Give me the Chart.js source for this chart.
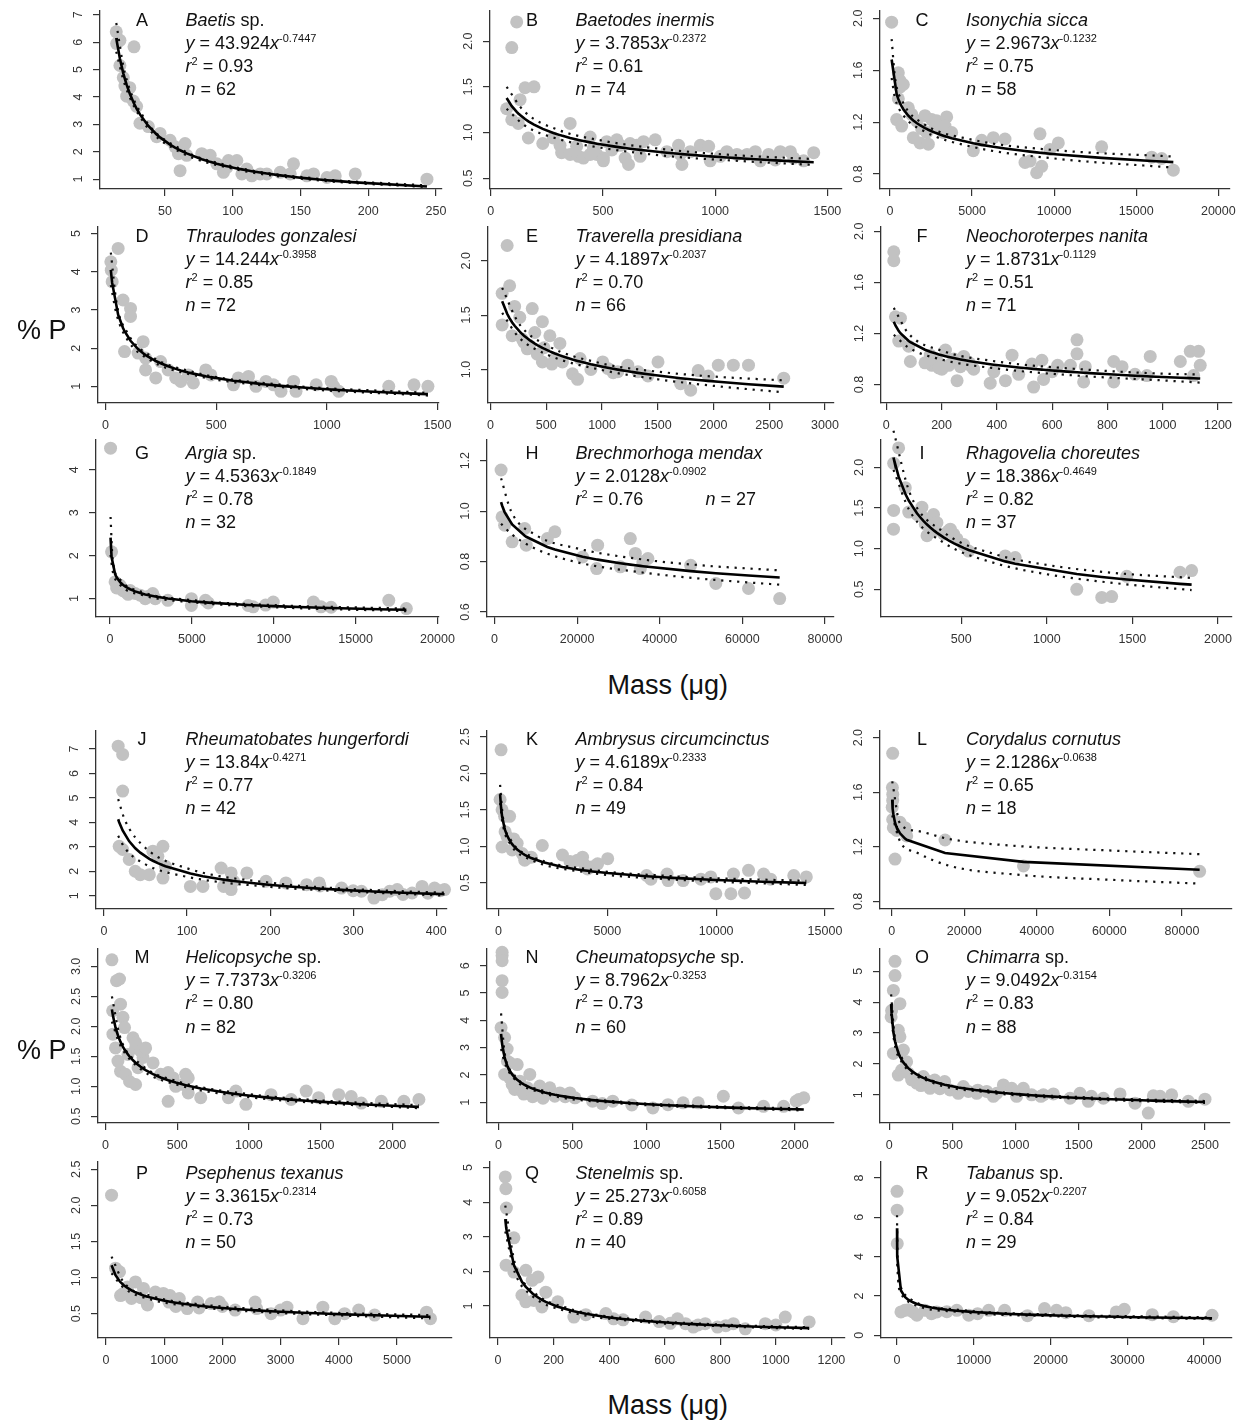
<!DOCTYPE html>
<html><head><meta charset="utf-8">
<script src="https://cdn.jsdelivr.net/npm/chart.js@4.4.0/dist/chart.umd.min.js"></script>
<style>
body{margin:0;background:#fff;}
#page{position:relative;width:1244px;height:1422px;overflow:hidden;font-family:"Liberation Sans",Arial,Helvetica,sans-serif;color:#111;}
#page canvas{position:absolute;}
.t{position:absolute;font-size:18px;line-height:23px;white-space:nowrap;}
.t sup{font-size:11px;position:relative;top:-7px;vertical-align:baseline;line-height:0;}
.lt{position:absolute;font-size:18px;line-height:23px;width:40px;text-align:center;}
.big{position:absolute;font-size:27px;line-height:32px;white-space:nowrap;}
</style></head>
<body><div id="page"></div>
<script>
// ---------------- DATA ----------------
const letters = ['A','B','C','D','E','F','G','H','I','J','K','L','M','N','O','P','Q','R'];
const taxa = ['Baetis','Baetodes inermis','Isonychia sicca','Thraulodes gonzalesi','Traverella presidiana','Neochoroterpes nanita','Argia','Brechmorhoga mendax','Rhagovelia choreutes','Rheumatobates hungerfordi','Ambrysus circumcinctus','Corydalus cornutus','Helicopsyche','Cheumatopsyche','Chimarra','Psephenus texanus','Stenelmis','Tabanus'];
const taxaSuffix = [' sp.','','','','','',' sp.','','','','','',' sp.',' sp.',' sp.','',' sp.',' sp.'];
const fitCoef = [43.924, 3.7853, 2.9673, 14.244, 4.1897, 1.8731, 4.5363, 2.0128, 18.386, 13.84, 4.6189, 2.1286, 7.7373, 8.7962, 9.0492, 3.3615, 25.273, 9.052];
const fitExp = [-0.7447, -0.2372, -0.1232, -0.3958, -0.2037, -0.1129, -0.1849, -0.0902, -0.4649, -0.4271, -0.2333, -0.0638, -0.3206, -0.3253, -0.3154, -0.2314, -0.6058, -0.2207];
const rSquared = ['0.93','0.61','0.75','0.85','0.70','0.51','0.78','0.76','0.82','0.77','0.84','0.65','0.80','0.73','0.83','0.73','0.89','0.84'];
const sampleN = [62,74,58,72,66,71,32,27,37,42,49,18,82,60,88,50,40,29];

const xTickSets = [
  ['50','100','150','200','250'], ['0','500','1000','1500'], ['0','5000','10000','15000','20000'],
  ['0','500','1000','1500'], ['0','500','1000','1500','2000','2500','3000'], ['0','200','400','600','800','1000','1200'],
  ['0','5000','10000','15000','20000'], ['0','20000','40000','60000','80000'], ['500','1000','1500','2000'],
  ['0','100','200','300','400'], ['0','5000','10000','15000'], ['0','20000','40000','60000','80000'],
  ['0','500','1000','1500','2000'], ['0','500','1000','1500','2000'], ['0','500','1000','1500','2000','2500'],
  ['0','1000','2000','3000','4000','5000'], ['0','200','400','600','800','1000','1200'], ['0','10000','20000','30000','40000']
];
const yTickSets = [
  ['1','2','3','4','5','6','7'], ['0.5','1.0','1.5','2.0'], ['0.8','1.2','1.6','2.0'],
  ['1','2','3','4','5'], ['1.0','1.5','2.0'], ['0.8','1.2','1.6','2.0'],
  ['1','2','3','4'], ['0.6','0.8','1.0','1.2'], ['0.5','1.0','1.5','2.0'],
  ['1','2','3','4','5','6','7'], ['0.5','1.0','1.5','2.0','2.5'], ['0.8','1.2','1.6','2.0'],
  ['0.5','1.0','1.5','2.0','2.5','3.0'], ['1','2','3','4','5','6'], ['1','2','3','4','5'],
  ['0.5','1.0','1.5','2.0','2.5'], ['1','2','3','4','5'], ['0','2','4','6','8']
];
const xLimits = [[2,254.4],[-3,1565],[-609,20711],[-34,1507],[-23,3081],[-19.3,1251],[-859,20092],[-1826,82187],[31,2082],
  [-9.7,413],[-531,15414],[-3218,93793],[-52,2325],[-78,2265],[-74,2698],[-137,5945],[-29,1249],[-2078,43636]];
const yLimits = [[0.64,7.14],[0.382,2.33],[0.685,2.056],[0.565,5.17],[0.692,2.31],[0.655,2.034],[0.573,4.69],[0.58,1.282],[0.159,2.337],
  [0.454,7.74],[0.141,2.578],[0.744,2.049],[0.388,3.29],[0.24,6.61],[0.088,5.72],[0.163,2.60],[0.075,5.16],[-0.136,8.81]];

// observed points: mass (µg) and %P
const massA = [14,14.3,16.7,27.1,16.7,19.2,20.4,21.7,24,26.6,29,31.5,37.7,43.8,46.3,53.7,57.4,59.9,61.1,64.8,66,77.1,83.3,88.2,93.1,95.6,96.8,103,106.7,110.3,114,120.2,125.1,135,144.8,142.4,154.7,159.6,169.5,175.6,190.4,243.3];
const pctA = [6.38,5.95,6.07,5.83,5.15,4.71,4.40,4.03,4.34,3.85,3.66,3.04,2.92,2.55,2.67,2.42,2.18,1.93,1.31,2.30,1.87,1.93,1.87,1.56,1.25,1.43,1.68,1.68,1.19,1.37,1.12,1.19,1.19,1.25,1.56,1.19,1.12,1.19,1.06,1.12,1.19,1.0];
const massB = [116,94,131,153,193,71,94,123,168,232,279,309,354,316,354,383,391,413,443,443,458,473,502,517,540,502,562,577,599,614,621,651,666,681,733,785,837,852,845,889,934,971,978,1023,1052,1097,1142,1179,1201,1238,1268,1290,1335,1350,1394,1439];
const pctB = [2.21,1.93,1.36,1.49,1.5,1.26,1.14,1.10,0.94,0.88,0.94,0.86,1.10,0.78,0.76,0.85,0.74,0.72,0.95,0.76,0.83,0.76,0.72,0.90,0.81,0.69,0.92,0.86,0.72,0.65,0.88,0.86,0.74,0.90,0.92,0.79,0.86,0.65,0.76,0.79,0.86,0.85,0.69,0.74,0.79,0.76,0.76,0.79,0.69,0.76,0.70,0.79,0.79,0.72,0.69,0.78];
const massC = [100,508,609,508,609,812,406,711,1117,1320,1421,1624,1827,1929,2132,2234,2335,2538,2741,2843,3046,3249,3452,3350,3756,5076,5584,6294,7005,8223,8528,8934,9137,9239,9746,10254,12893,15939,16548,17259];
const pctC = [1.97,1.58,1.47,1.38,1.52,1.49,1.22,1.17,1.31,1.26,1.08,1.21,1.04,1.15,1.25,1.12,1.03,1.22,1.16,1.21,1.17,1.12,1.24,1.17,1.12,0.98,1.06,1.08,1.07,0.89,0.90,0.81,1.11,0.86,0.99,1.04,1.01,0.93,0.92,0.83];
const massD = [24,26,30,57,79,113,113,86,147,170,181,181,227,249,283,317,340,374,397,453,476,578,600,646,680,725,759,793,850,861,952,1020,1031,1054,1280,1394,1457];
const pctD = [4.26,4.04,3.74,4.61,3.26,3.04,2.83,1.91,1.87,2.17,1.74,1.43,1.22,1.65,1.43,1.22,1.13,1.30,1.09,1.43,1.30,1.04,1.22,1.26,1.0,1.13,1.04,0.87,1.13,0.87,1.04,1.13,1.0,0.87,1.0,1.04,1.0];
const massE = [149,171,104,104,194,216,262,284,329,374,397,419,465,465,532,577,622,645,735,780,803,1006,1051,1141,1231,1322,1412,1502,1705,1795,1863,1953,2043,2178,2314,2630,300,350,480,550,900,1100];
const pctE = [2.14,1.77,1.70,1.41,1.31,1.58,1.48,1.28,1.19,1.56,1.34,1.14,1.44,1.07,1.31,1.10,1.24,1.07,0.96,0.91,1.10,1.07,1.01,0.98,1.04,0.98,0.94,1.07,0.87,0.81,0.99,0.94,1.04,1.04,1.04,0.92,1.25,1.22,1.20,1.05,1.0,0.97];
const massF = [27,27,33,51,45,81,87,159,165,183,201,214,226,244,256,268,280,304,316,376,389,431,455,479,527,533,563,569,666,690,690,714,720,823,823,853,943,955,1064,1100,1130,1136,1112,140,190,300,600,620,900];
const pctF = [1.84,1.77,1.33,1.32,1.14,1.10,0.98,1.03,0.95,0.99,0.92,1.07,0.95,1.0,0.83,0.94,1.02,0.95,0.92,0.81,0.90,0.83,1.03,0.88,0.96,0.78,0.99,0.84,0.95,1.15,1.04,0.82,0.94,0.98,0.82,0.94,0.87,1.02,0.98,1.06,1.06,0.95,0.87,0.97,0.93,0.97,0.90,0.95,0.88];
const massG = [30,92,307,613,767,920,1227,1534,1840,2147,2607,2761,3528,4969,4969,5828,8436,8742,9969,12423,12883,17025,18098,400,1100,2300,6000,9500,13500];
const pctG = [4.5,2.09,1.39,1.31,1.19,1.16,1.19,1.12,1.08,1.0,1.12,1.0,0.96,1.0,0.84,0.96,0.84,0.81,0.92,0.92,0.81,0.96,0.77,1.25,1.1,1.05,0.9,0.85,0.8];
const massH = [1583,1826,2435,4262,7305,7671,12785,14611,21308,24961,24717,30440,32875,34093,35919,37137,47486,53574,61488,69037,35310];
const pctH = [1.163,0.977,0.944,0.878,0.931,0.865,0.891,0.918,0.818,0.865,0.772,0.779,0.891,0.832,0.799,0.812,0.785,0.713,0.693,0.653,0.772];
const massI = [134,105,105,104,173,193,270,300,319,338,358,426,436,475,514,543,757,815,1175,1321,1379,1467,1778,1846,280,341,241,290,455,397];
const pctI = [2.24,2.05,1.47,1.24,1.75,1.45,1.51,1.16,1.34,1.42,1.32,1.22,1.24,1.12,1.05,0.97,0.91,0.89,0.50,0.40,0.41,0.66,0.71,0.73,1.38,1.22,1.42,1.30,1.18,1.18];
const massJ = [17,22.4,22.4,18.2,22.4,30.3,37.6,43.6,54.5,58.8,64.8,70.9,70.9,73.9,104,119,141,144,153,153,156,172,195,219,244,259,286,310,325,335,344,353,371,383,398,410,260,300,360,390,405];
const pctJ = [7.12,6.78,5.28,3.02,2.89,2.48,2.0,1.86,1.86,2.82,2.61,1.72,3.02,2.2,1.38,1.38,2.13,1.38,1.25,1.93,1.59,1.93,1.59,1.52,1.45,1.52,1.31,1.18,0.90,1.04,1.18,1.25,1.11,1.38,1.31,1.25,1.4,1.2,1.05,1.1,1.2];
const massK = [116,70,162,277,393,162,508,624,855,1086,1202,2011,2935,3282,3628,3859,3975,4091,4322,4553,5015,7742,7789,8482,9753,9984,10677,10793,11301,11486,12179,13566,14143,300,700,1500,6800,7000,9300,12500];
const pctK = [2.32,1.64,1.50,1.41,1.13,0.99,1.41,0.95,1.04,0.90,0.81,1.01,0.88,0.79,0.81,0.85,0.74,0.69,0.72,0.76,0.83,0.62,0.53,0.53,0.58,0.35,0.35,0.62,0.36,0.67,0.62,0.60,0.58,1.2,1.1,0.85,0.6,0.55,0.55,0.55];
const massL = [276,200,300,150,276,460,1195,1379,920,3678,4138,14713,36322,84874,2299,276];
const pctL = [1.885,1.634,1.585,1.49,1.40,1.34,1.37,1.32,1.11,1.34,1.28,1.25,1.06,1.02,1.38,1.54];
const massM = [45,77,98,50,52,70,87,105,122,105,133,140,168,157,210,192,210,262,227,273,332,385,437,437,472,490,542,559,577,577,664,857,909,979,1154,1294,1399,1486,1626,1713,1783,1923,2080,2185,210,245,280];
const pctM = [3.11,2.76,2.79,2.26,1.87,1.64,1.42,2.37,2.15,1.25,1.98,1.20,1.08,1.53,1.03,1.81,1.64,1.48,1.31,1.62,1.39,1.20,1.23,0.75,1.14,1.0,1.03,1.20,1.14,0.89,0.81,0.81,0.92,0.70,0.86,0.78,0.92,0.81,0.86,0.83,0.72,0.75,0.75,0.78,1.73,1.59,1.64];
const massN = [24,24,24,24,24,17,41,58,41,75,75,92,109,126,143,160,194,211,244,278,312,346,380,414,482,516,635,771,1042,1144,1246,1348,1518,1620,1789,1925,2010,2027,2061,60,120,170,230,300,450,700,900];
const pctN = [6.49,6.37,6.18,5.45,5.02,3.73,3.37,2.95,2.02,2.45,1.89,1.65,1.47,2.38,1.77,1.40,1.53,2.02,1.34,1.59,1.28,1.53,1.22,1.34,1.34,1.16,1.04,1.04,0.79,0.91,0.98,0.98,1.22,0.79,0.85,0.85,1.04,1.10,1.16,2.5,1.6,1.3,1.2,1.15,1.2,0.95,0.9];
const massO = [45,45,32,18,14,84,71,84,32,111,137,71,98,150,177,216,269,322,359,412,438,480,546,586,626,692,771,824,903,969,1008,1061,1127,1220,1299,1431,1510,1576,1695,1827,1946,2051,2091,2144,2236,2368,2500,250,300,400,700,850,1000,1200,1600];
const pctO = [5.32,4.86,4.38,3.73,3.52,3.95,3.09,2.88,2.34,2.45,2.07,1.64,1.80,1.70,1.48,1.38,1.59,1.21,1.48,1.27,1.43,1.16,1.05,1.27,1.11,1.05,1.11,0.95,1.32,1.21,0.95,1.21,1.0,1.0,1.03,0.89,1.05,0.79,0.89,1.03,0.73,0.41,0.97,0.95,1.0,0.79,0.86,1.3,1.45,1.2,1.15,1.05,1.1,0.95,0.95];
const massP = [96,164,233,301,370,507,438,644,712,849,986,1082,1260,1397,1575,1808,1945,2219,2562,2589,2836,3110,3384,3726,3932,4342,4616,5507,5575,250,600,1100,1200,1600,2000,3000,4100];
const pctP = [2.14,1.13,1.08,0.78,0.87,0.94,0.71,0.85,0.62,0.80,0.78,0.66,0.71,0.57,0.66,0.64,0.66,0.55,0.66,0.57,0.50,0.59,0.43,0.59,0.43,0.55,0.48,0.52,0.43,0.75,0.72,0.75,0.6,0.58,0.6,0.55,0.5];
const massQ = [26,28,30,57,29,57,100,123,144,86,100,129,158,172,215,273,316,388,416,531,646,675,703,746,790,847,890,962,1034,1120,450,580,620,720,820,1000];
const pctQ = [4.73,4.39,3.83,2.97,2.18,1.98,2.03,1.74,1.84,1.31,1.12,1.16,0.97,1.40,1.12,0.68,0.75,0.78,0.63,0.68,0.63,0.49,0.39,0.49,0.39,0.49,0.34,0.49,0.68,0.54,0.6,0.55,0.5,0.45,0.43,0.45];
const massR = [10,25,40,520,1039,2078,2597,3636,5195,7792,9351,11948,14026,19221,20779,28571,29610,33247,41039,1500,4500,6500,10500,17000,22000,25000,36000];
const pctR = [7.32,6.36,4.66,1.19,1.27,1.19,1.02,1.27,1.19,1.27,1.02,1.27,1.27,1.36,1.27,1.19,1.32,1.05,1.02,1.3,1.1,1.2,1.1,1.0,1.15,1.0,0.95];

// 95% confidence bands (read at a few masses): x, upper, lower
const bandXA = [14,20,35,60,100,160,243], bandUpA = [6.7,4.95,3.2,2.14,1.46,1.03,0.77], bandLoA = [5.65,4.5,3.02,2.02,1.38,0.97,0.71];
const bandXB = [71,150,300,500,800,1100,1439], bandUpB = [1.50,1.23,1.03,0.91,0.81,0.75,0.71], bandLoB = [1.26,1.08,0.93,0.83,0.74,0.69,0.645];
const bandXC = [100,300,800,2000,5000,10000,17259], bandUpC = [1.84,1.55,1.35,1.19,1.065,0.985,0.935], bandLoC = [1.54,1.39,1.255,1.135,1.01,0.92,0.85];
const bandXD = [24,50,100,200,400,800,1457], bandUpD = [4.5,3.18,2.39,1.81,1.37,1.04,0.83], bandLoD = [3.65,2.88,2.21,1.69,1.29,0.98,0.76];
const bandXE = [104,250,500,1000,1500,2000,2630], bandUpE = [1.75,1.43,1.225,1.055,0.98,0.935,0.90], bandLoE = [1.52,1.30,1.14,0.995,0.91,0.85,0.79];
const bandXF = [27,80,200,400,700,1000,1136], bandUpF = [1.40,1.20,1.065,0.98,0.92,0.885,0.878], bandLoF = [1.19,1.09,0.995,0.925,0.868,0.832,0.815];
const bandXG = [30,150,600,2000,5000,10000,18098], bandUpG = [2.9,1.95,1.45,1.15,0.965,0.85,0.77], bandLoG = [2.02,1.66,1.33,1.08,0.915,0.80,0.71];
const bandXH = [1583,4000,10000,20000,35000,50000,69037], bandUpH = [1.13,1.0,0.905,0.852,0.81,0.785,0.765], bandLoH = [0.95,0.91,0.85,0.797,0.758,0.732,0.708];
const bandXI = [104,200,400,700,1000,1400,1846], bandUpI = [2.45,1.68,1.2,0.93,0.80,0.70,0.64], bandLoI = [1.97,1.46,1.07,0.82,0.685,0.575,0.49];
const bandXJ = [17,25,50,100,200,300,410], bandUpJ = [4.95,4.1,2.95,2.12,1.53,1.27,1.12], bandLoJ = [3.45,2.95,2.28,1.77,1.36,1.16,1.0];
const bandXK = [70,200,600,1500,4000,8000,14143], bandUpK = [1.84,1.40,1.07,0.865,0.69,0.59,0.525], bandLoK = [1.59,1.29,1.005,0.813,0.645,0.545,0.47];
const bandXL = [150,2300,6900,16000,34000,62000,84874], bandUpL = [1.68,1.37,1.317,1.256,1.207,1.171,1.146], bandLoL = [1.43,1.24,1.158,1.06,0.997,0.956,0.93];
const bandXM = [45,100,250,500,1000,1600,2185], bandUpM = [2.5,1.84,1.36,1.085,0.87,0.75,0.685], bandLoM = [2.08,1.70,1.28,1.025,0.82,0.705,0.635];
const bandXN = [17,40,100,300,800,1500,2061], bandUpN = [4.25,2.85,2.05,1.42,1.03,0.845,0.775], bandLoN = [2.95,2.47,1.89,1.335,0.97,0.787,0.70];
const bandXO = [14,40,100,300,800,1600,2500], bandUpO = [4.25,2.97,2.19,1.54,1.13,0.91,0.80], bandLoO = [3.62,2.69,2.05,1.46,1.07,0.855,0.735];
const bandXP = [96,300,800,1500,2500,4000,5575], bandUpP = [1.29,0.94,0.74,0.64,0.57,0.51,0.48], bandLoP = [1.06,0.86,0.69,0.60,0.53,0.476,0.435];
const bandXQ = [26,60,120,250,500,800,1120], bandUpQ = [3.9,2.25,1.47,0.94,0.615,0.465,0.385], bandLoQ = [3.15,1.98,1.31,0.845,0.555,0.415,0.335];
const bandXR = [10,40,500,2000,8000,20000,41039], bandUpR = [6.1,4.4,2.45,1.78,1.30,1.06,0.91], bandLoR = [4.85,3.65,2.15,1.61,1.19,0.975,0.83];

// ---------------- LAYOUT (pixel boxes of each plot region: left, top, right, bottom) ----------------
const boxes = [
  [100,11,442,189],[490,11,842,189],[880,11,1230,189],
  [98,227,439,402.5],[488,227,834,402.5],[881,227,1232,402.5],
  [96,440,439,617],[487,440,834,617],[881,440,1232,617],
  [96,731,447,908.5],[487,731,834,908.5],[880,731,1232,908.5],
  [98,949,439,1122.5],[487,949,834,1122.5],[880,949,1230,1122.5],
  [98,1162,452,1338],[490,1162,845,1338],[881,1162,1232,1338]
];
const letterCX = [142,532,922];
const textX = [185.5,575.5,966];
const rowTextY = [20,236.3,453.3,739,957.5,1173];

// ---------------- BUILD ----------------
const page = document.getElementById('page');
const massSets = [massA,massB,massC,massD,massE,massF,massG,massH,massI,massJ,massK,massL,massM,massN,massO,massP,massQ,massR];
const pctSets = [pctA,pctB,pctC,pctD,pctE,pctF,pctG,pctH,pctI,pctJ,pctK,pctL,pctM,pctN,pctO,pctP,pctQ,pctR];
const bandXs = [bandXA,bandXB,bandXC,bandXD,bandXE,bandXF,bandXG,bandXH,bandXI,bandXJ,bandXK,bandXL,bandXM,bandXN,bandXO,bandXP,bandXQ,bandXR];
const bandUps = [bandUpA,bandUpB,bandUpC,bandUpD,bandUpE,bandUpF,bandUpG,bandUpH,bandUpI,bandUpJ,bandUpK,bandUpL,bandUpM,bandUpN,bandUpO,bandUpP,bandUpQ,bandUpR];
const bandLos = [bandLoA,bandLoB,bandLoC,bandLoD,bandLoE,bandLoF,bandLoG,bandLoH,bandLoI,bandLoJ,bandLoK,bandLoL,bandLoM,bandLoN,bandLoO,bandLoP,bandLoQ,bandLoR];

const PADL = 45, PADT = 10, PADR = 26, PADB = 35;
const AXIS = '#333';
const FONT = '"Liberation Sans", Arial, Helvetica, sans-serif';

for (let i = 0; i < 18; i++) {
  const [bl, bt, br, bb] = boxes[i];
  const W = Math.round(br - bl + PADL + PADR), H = Math.round(bb - bt + PADT + PADB);
  const cv = document.createElement('canvas');
  cv.width = W; cv.height = H;
  cv.style.left = (bl - PADL) + 'px'; cv.style.top = (bt - PADT) + 'px';
  cv.style.width = W + 'px'; cv.style.height = H + 'px';
  page.appendChild(cv);

  const mass = massSets[i], pct = pctSets[i];
  const pts = mass.map((m, k) => ({x: m, y: pct[k]}));
  const fitX = Array.from(new Set(mass)).sort((a, b) => a - b);
  const fit = fitX.map(x => ({x: x, y: fitCoef[i] * Math.pow(x, fitExp[i])}));
  const up = bandXs[i].map((x, k) => ({x: x, y: bandUps[i][k]}));
  const lo = bandXs[i].map((x, k) => ({x: x, y: bandLos[i][k]}));
  const xt = xTickSets[i], yt = yTickSets[i];

  const labelPlugin = {
    id: 'rTickLabels',
    afterDraw(chart) {
      const ctx = chart.ctx, ca = chart.chartArea, sx = chart.scales.x, sy = chart.scales.y;
      ctx.save();
      ctx.fillStyle = '#333';
      ctx.font = '12.5px ' + FONT;
      ctx.textAlign = 'center'; ctx.textBaseline = 'middle';
      xt.forEach(l => ctx.fillText(l, sx.getPixelForValue(parseFloat(l)), ca.bottom + 23));
      yt.forEach(l => {
        ctx.save();
        ctx.translate(ca.left - 21.5, sy.getPixelForValue(parseFloat(l)));
        ctx.rotate(-Math.PI / 2);
        ctx.fillText(l, 0, 0);
        ctx.restore();
      });
      ctx.restore();
    }
  };

  const axisCommon = {
    type: 'linear', bounds: 'data',
    ticks: {display: false},
    grid: {display: true, drawOnChartArea: false, drawTicks: true, tickLength: 7, color: AXIS, lineWidth: 1.2},
    border: {display: true, color: AXIS, width: 1.3}
  };

  new Chart(cv, {
    type: 'scatter',
    data: {
      datasets: [
        {data: pts, pointRadius: 6.5, pointBackgroundColor: '#c2c2c2', pointBorderWidth: 0, pointBorderColor: 'rgba(0,0,0,0)', showLine: false, order: 4, clip: false},
        {data: up, showLine: true, pointRadius: 0, borderColor: '#111', borderWidth: 2.2, borderDash: [2.2, 5.8], cubicInterpolationMode: 'monotone', fill: false, order: 2, clip: false},
        {data: lo, showLine: true, pointRadius: 0, borderColor: '#111', borderWidth: 2.2, borderDash: [2.2, 5.8], cubicInterpolationMode: 'monotone', fill: false, order: 3, clip: false},
        {data: fit, showLine: true, pointRadius: 0, borderColor: '#000', borderWidth: 2.6, tension: 0, fill: false, order: 1, clip: false}
      ]
    },
    options: {
      responsive: false, animation: false, devicePixelRatio: 1, events: [],
      layout: {padding: {top: PADT, right: PADR, left: 0, bottom: 0}, autoPadding: false},
      plugins: {legend: {display: false}, tooltip: {enabled: false}},
      scales: {
        x: Object.assign({}, axisCommon, {position: 'bottom', min: xLimits[i][0], max: xLimits[i][1],
          afterBuildTicks: s => { s.ticks = xt.map(v => ({value: parseFloat(v)})); },
          afterFit: s => { s.height = PADB; }}),
        y: Object.assign({}, axisCommon, {position: 'left', min: yLimits[i][0], max: yLimits[i][1],
          afterBuildTicks: s => { s.ticks = yt.map(v => ({value: parseFloat(v)})); },
          afterFit: s => { s.width = PADL; }})
      }
    },
    plugins: [labelPlugin]
  });
}

// panel annotations
function addDiv(cls, html, left, top) {
  const d = document.createElement('div');
  d.className = cls; d.innerHTML = html;
  d.style.left = left + 'px'; d.style.top = top + 'px';
  page.appendChild(d);
  return d;
}
for (let i = 0; i < 18; i++) {
  const col = i % 3, row = Math.floor(i / 3);
  const y0 = rowTextY[row] - 11.5;
  addDiv('lt', letters[i], letterCX[col] - 20, y0);
  addDiv('t', '<i>' + taxa[i] + '</i>' + taxaSuffix[i], textX[col], y0);
  addDiv('t', '<i>y</i> = ' + fitCoef[i] + '<i>x</i><sup>' + fitExp[i] + '</sup>', textX[col], y0 + 23.2);
  addDiv('t', '<i>r</i><sup>2</sup> = ' + rSquared[i], textX[col], y0 + 46.4);
  if (letters[i] === 'H') {
    addDiv('t', '<i>n</i> = ' + sampleN[i], 705.5, y0 + 46.4);
  } else {
    addDiv('t', '<i>n</i> = ' + sampleN[i], textX[col], y0 + 69.6);
  }
}

// outer axis titles
addDiv('big', '% P', 17, 314);
addDiv('big', '% P', 17, 1034);
const m1 = addDiv('big', 'Mass (μg)', 0, 669);
const m2 = addDiv('big', 'Mass (μg)', 0, 1389);
[m1, m2].forEach(m => { m.style.left = (668 - m.offsetWidth / 2) + 'px'; });
</script>
</body></html>
